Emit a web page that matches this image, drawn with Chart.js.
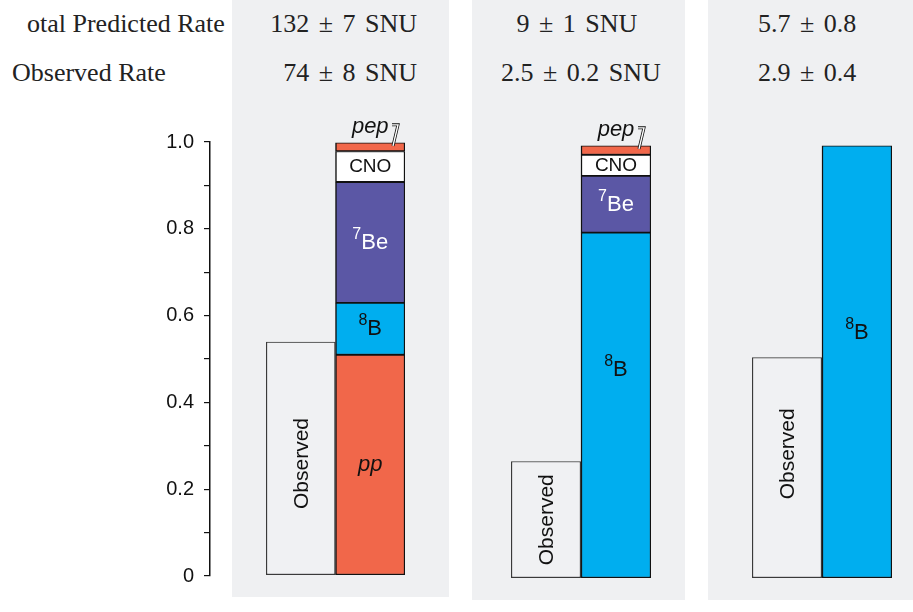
<!DOCTYPE html>
<html>
<head>
<meta charset="utf-8">
<script src="https://cdn.jsdelivr.net/npm/chart.js@4.4.1/dist/chart.umd.min.js"></script>
<style>
  body { margin: 0; width: 913px; height: 612px; overflow: hidden; position: relative; background: #fff; }
  .panel { position: absolute; top: 0; background: #eff0f2; }
  .txt { position: absolute; font-family: "Liberation Serif", serif; font-size: 26px; line-height: 26px; color: #222; white-space: nowrap; }
  .val { word-spacing: 3px; }
  canvas { position: absolute; }
</style>
</head>
<body>
<div class="panel" style="left:232px;width:217px;height:597px"></div>
<div class="panel" style="left:472px;width:213px;height:600px"></div>
<div class="panel" style="left:708px;width:205px;height:600px"></div>

<canvas id="axis" width="80" height="498" style="left:140px;top:100px"></canvas>
<canvas id="c0" width="143" height="478" style="left:264px;top:100px"></canvas>
<canvas id="c1" width="144" height="478" style="left:509px;top:103px"></canvas>
<canvas id="c2" width="144" height="478" style="left:750px;top:103px"></canvas>

<script>
// rows of text above the panels
const rowLabels = ["otal Predicted Rate", "Observed Rate"];
const predictedRate = ["132 \u00b1 7 SNU", "9 \u00b1 1 SNU", "5.7 \u00b1 0.8"];
const observedRate = ["74 \u00b1 8 SNU", "2.5 \u00b1 0.2 SNU", "2.9 \u00b1 0.4"];

// fractions of the predicted rate, one value per panel
const observed = [0.538, 0.269, 0.509];
const pp   = [0.508, 0, 0];
const b8   = [0.120, 0.797, 0.998];
const be7  = [0.279, 0.131, 0];
const cno  = [0.071, 0.049, 0];
const pep  = [0.020, 0.021, 0];

const sources = ["pp", "8B", "7Be", "CNO", "pep"];   // bottom to top
const sourceValues = [pp, b8, be7, cno, pep];
const tickLabels = ["0", "0.2", "0.4", "0.6", "0.8", "1.0"];

const sourceColors = { pp: "#f1674a", "8B": "#00aeef", "7Be": "#5b57a5", CNO: "#ffffff", pep: "#f1674a" };
const labelStyle = {
  pp:    { main: "pp", italic: true, color: "#111" },
  "8B":  { sup: "8", main: "B", color: "#111" },
  "7Be": { sup: "7", main: "Be", color: "#fff" },
  CNO:   { main: "CNO", size: 19, color: "#111" },
  pep:   { main: "pep", italic: true, color: "#111", above: true }
};

// text rows
function addText(text, css, cls) {
  const d = document.createElement("div");
  d.className = "txt " + (cls || "");
  d.textContent = text;
  Object.assign(d.style, css);
  document.body.appendChild(d);
}
addText(rowLabels[0], { left: "27px", top: "11px" });
addText(rowLabels[1], { left: "12px", top: "60px" });
addText(predictedRate[0], { right: "496px", top: "11px" }, "val");
addText(observedRate[0], { right: "496px", top: "60px" }, "val");
addText(predictedRate[1], { left: "577px", top: "11px", transform: "translateX(-50%)" }, "val");
addText(observedRate[1], { left: "581px", top: "60px", transform: "translateX(-50%)" }, "val");
addText(predictedRate[2], { left: "758px", top: "11px" }, "val");
addText(observedRate[2], { left: "758px", top: "60px" }, "val");

const FAM = '"Liberation Sans", Arial, sans-serif';

function drawLabel(ctx, st, cx, cy) {
  const size = st.size || 22;
  const mainFont = (st.italic ? "italic " : "") + size + "px " + FAM;
  const supFont = "16px " + FAM;
  ctx.font = supFont;
  const sw = st.sup ? ctx.measureText(st.sup).width : 0;
  ctx.font = mainFont;
  const mw = ctx.measureText(st.main).width;
  let x = cx - (sw + mw) / 2;
  ctx.fillStyle = st.color;
  ctx.textAlign = "left";
  if (st.sup) {
    ctx.font = supFont;
    ctx.textBaseline = "middle";
    ctx.fillText(st.sup, x, cy - 8);
    x += sw;
  }
  ctx.font = mainFont;
  ctx.fillText(st.main, x, cy);
}

const segLabels = {
  id: "segLabels",
  afterDatasetsDraw(chart, args, opts) {
    const ctx = chart.ctx;
    const shift = opts.shift || {};
    ctx.save();
    chart.data.datasets.forEach((ds, di) => {
      const meta = chart.getDatasetMeta(di);
      meta.data.forEach((bar, i) => {
        if (ds.data[i] == null) return;
        const p = bar.getProps(["x", "y", "base", "width"], true);
        const mid = (p.y + p.base) / 2 + (shift[ds.label] || 0);
        if (ds.label === "Observed") {
          ctx.save();
          ctx.translate(p.x + 1, mid);
          ctx.rotate(-Math.PI / 2);
          ctx.font = "21px " + FAM;
          ctx.fillStyle = "#111";
          ctx.textAlign = "center";
          ctx.textBaseline = "middle";
          ctx.fillText("Observed", 0, 0);
          ctx.restore();
          return;
        }
        const st = labelStyle[ds.label];
        if (st.above) {
          ctx.textBaseline = "alphabetic";
          drawLabel(ctx, st, p.x, p.y - 10);
          const r = p.x + p.width / 2;
          const path = () => {
            ctx.beginPath();
            ctx.moveTo(r - 13, p.y - 18);
            ctx.lineTo(r - 7, p.y - 18);
            ctx.lineTo(r - 12, p.y + 3);
          };
          ctx.lineJoin = "miter";
          path(); ctx.strokeStyle = "#111"; ctx.lineWidth = 3; ctx.stroke();
          path(); ctx.strokeStyle = "#fff"; ctx.lineWidth = 1.4; ctx.stroke();
        } else {
          ctx.textBaseline = "middle";
          drawLabel(ctx, st, p.x, mid);
        }
      });
    });
    ctx.restore();
  }
};

// shared y axis
const axisCanvas = document.getElementById("axis");
const axisChart = new Chart(axisCanvas, {
  type: "bar",
  data: { labels: [], datasets: [] },
  options: {
    responsive: false,
    animation: false,
    layout: { padding: { top: 42, bottom: 7, left: 0, right: 0 } },
    plugins: { legend: { display: false }, tooltip: { enabled: false } },
    scales: {
      x: { display: false },
      y: {
        min: 0, max: 1,
        afterFit: s => { s.width = 70; },
        border: { color: "#111", width: 1.5 },
        grid: { drawOnChartArea: false, tickLength: 6, color: "#111", lineWidth: 1.2 },
        ticks: {
          stepSize: 0.1, autoSkip: false, padding: 10, color: "#111",
          font: { size: 20, family: FAM },
          callback: (v, i) => (i % 2 ? "" : tickLabels[i / 2])
        }
      }
    }
  }
});
// line the axis up with the bars (value 1.0 at y = 142)
axisCanvas.style.top = (142 - axisChart.chartArea.top) + "px";

function panelDatasets(i) {
  const ds = [{
    label: "Observed",
    data: [observed[i], null],
    backgroundColor: "#f0f1f3",
    borderColor: "#3a3a3a"
  }];
  sources.forEach((s, k) => {
    const v = sourceValues[k][i];
    if (!v) return;
    ds.push({ label: s, data: [null, v], backgroundColor: sourceColors[s], borderColor: "#111" });
  });
  ds.forEach(d => Object.assign(d, {
    stack: "s", barPercentage: 1, categoryPercentage: 1,
    borderSkipped: false, borderWidth: { top: 1, bottom: 1.5, left: 1.5, right: 1.5 }
  }));
  return ds;
}

const shifts = [
  { Observed: 5 },
  { "8B": -36 },
  { "8B": -29, Observed: -14 }
];

[0, 1, 2].forEach(i => {
  new Chart(document.getElementById("c" + i), {
    type: "bar",
    data: { labels: ["Observed", "Predicted"], datasets: panelDatasets(i) },
    options: {
      responsive: false,
      animation: false,
      layout: { padding: { top: 42, bottom: 3, left: 2, right: 2 } },
      plugins: { legend: { display: false }, tooltip: { enabled: false }, segLabels: { shift: shifts[i] } },
      scales: {
        x: { display: false, stacked: true },
        y: { display: false, stacked: true, min: 0, max: 1 }
      }
    },
    plugins: [segLabels]
  });
});
</script>
</body>
</html>
